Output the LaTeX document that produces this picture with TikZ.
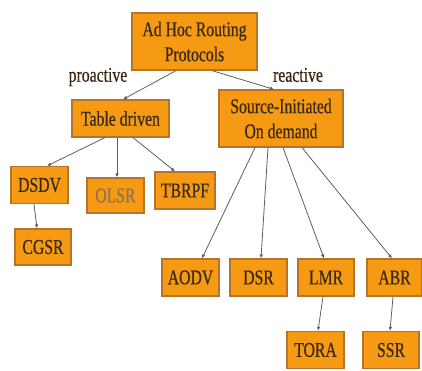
\documentclass[tikz,border=0pt]{standalone}
\usepackage{fontspec}
\setmainfont[FakeStretch=0.75,FakeBold=0.5]{Liberation Serif}
\usetikzlibrary{arrows.meta}
\definecolor{boxorange}{HTML}{F59A12}
\definecolor{boxedge}{HTML}{B5742A}
\definecolor{inkbrown}{HTML}{3B2A12}
\definecolor{fadedink}{HTML}{857556}
\definecolor{linkgray}{HTML}{5E5E5E}

\begin{document}
\begin{tikzpicture}[>={Latex[length=4pt,width=3.5pt]}, x=1pt, y=-1pt,
  proto/.style={draw=boxedge, line width=1.2pt, fill=boxorange, text=inkbrown,
    font=\fontsize{21}{25}\selectfont, align=center, inner sep=0pt},
  link/.style={->, draw=linkgray, line width=0.8pt}]
  \useasboundingbox (0,0) rectangle (422,371);
  % top levels
  \node[proto, minimum width=125, minimum height=57] (root) at (194.5,41.5) {Ad Hoc Routing\\Protocols};
  \node[proto, minimum width=97, minimum height=37] (table) at (120.5,118.5) {Table driven};
  \node[proto, minimum width=124, minimum height=57] (source) at (281,118.5) {Source-Initiated\\On demand};
  \node[text=inkbrown, font=\fontsize{21}{25}\selectfont] (pro) at (98,77) {proactive};
  \node[text=inkbrown, font=\fontsize{21}{25}\selectfont] (re) at (298,75) {reactive};
  % table driven side
  \node[proto, minimum width=57, minimum height=37] (dsdv) at (39.5,185) {DSDV};
  \node[proto, minimum width=57, minimum height=35, text=fadedink] (olsr) at (115.5,195.5) {OLSR};
  \node[proto, minimum width=60, minimum height=37] (tbrpf) at (185,190.5) {TBRPF};
  \node[proto, minimum width=56, minimum height=36] (cgsr) at (43,247) {CGSR};
  % on demand side
  \node[proto, minimum width=57, minimum height=37] (aodv) at (190.5,277.5) {AODV};
  \node[proto, minimum width=57, minimum height=37] (dsr) at (258.5,277.5) {DSR};
  \node[proto, minimum width=56, minimum height=37] (lmr) at (326,277.5) {LMR};
  \node[proto, minimum width=55, minimum height=37] (abr) at (394.5,277.5) {ABR};
  \node[proto, minimum width=57, minimum height=37] (tora) at (315.5,350) {TORA};
  \node[proto, minimum width=56, minimum height=37] (ssr) at (391,350) {SSR};
  % links
  \draw[link] ([xshift=-18.5pt]root.south) -- ([xshift=2.5pt]table.north);
  \draw[link] ([xshift=17.5pt]root.south) -- ([xshift=-7pt]source.north);
  \draw[link] ([xshift=-15.5pt]table.south) -- ([xshift=7.5pt]dsdv.north);
  \draw[link] ([xshift=-3.5pt]table.south) -- ([xshift=1.5pt]olsr.north);
  \draw[link] ([xshift=12.5pt]table.south) -- ([xshift=-10pt]tbrpf.north);
  \draw[link] ([xshift=-5.5pt]dsdv.south) -- ([xshift=-6pt]cgsr.north);
  \draw[link] ([xshift=-26pt]source.south) -- ([xshift=11.5pt]aodv.north);
  \draw[link] ([xshift=-13pt]source.south) -- ([xshift=2.5pt]dsr.north);
  \draw[link] ([xshift=2pt]source.south) -- ([xshift=-2pt]lmr.north);
  \draw[link] ([xshift=21pt]source.south) -- ([xshift=-2.5pt]abr.north);
  \draw[link] ([xshift=-3pt]lmr.south) -- ([xshift=2.5pt]tora.north);
  \draw[link] ([xshift=-1.5pt]abr.south) -- ([xshift=-1pt]ssr.north);
\end{tikzpicture}
\end{document}
